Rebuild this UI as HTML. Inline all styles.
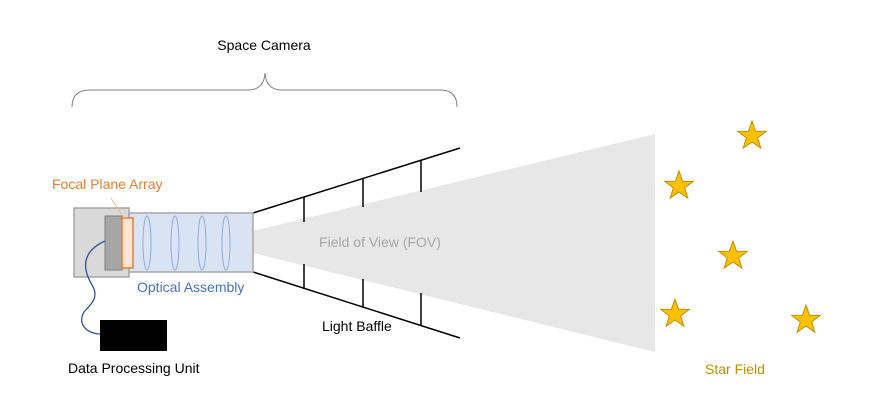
<!DOCTYPE html>
<html><head><style>
body{margin:0;background:#fff;width:892px;height:410px;overflow:hidden}
svg{display:block}
text{font-family:"Liberation Sans",sans-serif;font-size:14px}
</style></head><body>
<svg width="892" height="410" viewBox="0 0 892 410">
<defs>
<polygon id="st" points="0,-15 3.5,-4.8 14.3,-4.6 5.7,1.9 8.8,12.1 0,6 -8.8,12.1 -5.7,1.9 -14.3,-4.6 -3.5,-4.8" fill="#ffc000" stroke="#bf9000" stroke-width="1"/>
</defs>
<path d="M72,107 Q72,90 90,90 L248,90 Q264,90 265,73 Q266,90 282,90 L440,90 Q457,90 457,107" fill="none" stroke="#808080" stroke-width="1"/>
<text x="264" y="50" text-anchor="middle" fill="#000">Space Camera</text>
<polygon points="253,231 655,134 655,352 253,253" fill="#e7e7e7"/>
<text x="380" y="247" text-anchor="middle" fill="#a6a6a6">Field of View (FOV)</text>
<g stroke="#000" stroke-width="1.5" fill="none">
<line x1="253" y1="213" x2="460" y2="148"/>
<line x1="253" y1="272" x2="460" y2="338"/>
<line x1="304" y1="197" x2="304" y2="222"/>
<line x1="304" y1="264" x2="304" y2="289"/>
<line x1="363" y1="179" x2="363" y2="207"/>
<line x1="363" y1="279" x2="363" y2="307"/>
<line x1="421" y1="160" x2="421" y2="192"/>
<line x1="421" y1="293" x2="421" y2="325"/>
</g>
<text x="322" y="331" fill="#000">Light Baffle</text>
<rect x="74" y="208" width="55" height="69" fill="#d9d9d9" stroke="#a6a6a6" stroke-width="1.5"/>
<rect x="129" y="213" width="124" height="59" fill="#dae3f3" stroke="#a6a6a6" stroke-width="1.5"/>
<g fill="none" stroke="#8faadc" stroke-width="1">
<ellipse cx="147" cy="243" rx="4" ry="27"/>
<ellipse cx="175" cy="243" rx="4" ry="27"/>
<ellipse cx="202" cy="243" rx="4" ry="27"/>
<ellipse cx="226" cy="243" rx="4" ry="27"/>
</g>
<rect x="105" y="216" width="17" height="54" fill="#a6a6a6" stroke="#7f7f7f" stroke-width="1"/>
<rect x="122" y="218" width="11" height="50" fill="#fbe5d6" stroke="#ed7d31" stroke-width="1.5"/>
<line x1="111" y1="198" x2="124" y2="218" stroke="#f4b183" stroke-width="0.8"/>
<text x="52" y="189" fill="#ed7d31">Focal Plane Array</text>
<text x="137" y="292" fill="#4472c4">Optical Assembly</text>
<path d="M105,241 C85,250 80,265 92,285 C100,298 90,305 84,312 C78,322 84,333 100,334" fill="none" stroke="#2f5597" stroke-width="1.3"/>
<rect x="100" y="320" width="67" height="31" fill="#000"/>
<text x="68" y="373" fill="#000">Data Processing Unit</text>
<use href="#st" x="752" y="136"/>
<use href="#st" x="679" y="186"/>
<use href="#st" x="733" y="256"/>
<use href="#st" x="675" y="314"/>
<use href="#st" x="806" y="320"/>
<text x="705" y="374" fill="#bf9000">Star Field</text>
</svg>
</body></html>
